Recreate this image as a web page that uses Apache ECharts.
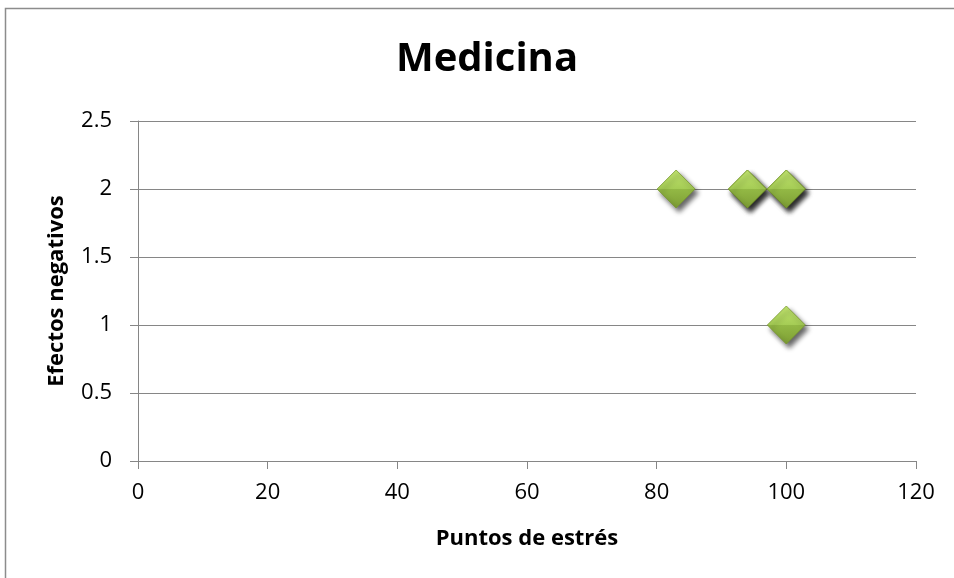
<!DOCTYPE html>
<html>
<head>
<meta charset="utf-8">
<script src="https://cdn.jsdelivr.net/npm/echarts@6/dist/echarts.min.js"></script>
<style>
html,body{margin:0;padding:0;background:#fff;}
#chart{width:954px;height:578px;}
</style>
</head>
<body>
<div id="chart"></div>
<script>
const titleText = "Medicina";
const xName = "Puntos de estrés";
const yName = "Efectos negativos";
const xValues = [83, 94, 94, 100, 100, 100];
const yValues = [2, 2, 2, 2, 2, 1];
const xTicks = {min: 0, max: 120, interval: 20};
const yTicks = {min: 0, max: 2.5, interval: 0.5};

const points = xValues.map((x, i) => [x, yValues[i]]);
const font = "'Open Sans', 'Noto Sans', sans-serif";
const gray = '#868686';

const chart = echarts.init(document.getElementById('chart'));
chart.setOption({
  animation: false,
  backgroundColor: '#fff',
  graphic: [{
    type: 'rect',
    shape: {x: 5.5, y: 8.5, width: 1000, height: 1000},
    style: {fill: 'none', stroke: '#8c8c8c', lineWidth: 1.5},
    silent: true,
    z: -10
  }],
  title: {
    text: titleText,
    left: 482,
    top: 35,
    textAlign: 'center',
    textStyle: {fontFamily: font, fontWeight: 'bold', fontSize: 40, color: '#000'}
  },
  grid: {left: 138, right: 38, top: 121, bottom: 117, containLabel: false},
  xAxis: {
    type: 'value',
    min: xTicks.min, max: xTicks.max, interval: xTicks.interval,
    name: xName,
    nameLocation: 'middle',
    nameGap: 67,
    nameTextStyle: {fontFamily: font, fontWeight: 'bold', fontSize: 22, color: '#000'},
    axisLine: {show: true, lineStyle: {color: gray, width: 1}},
    axisTick: {show: true, length: 8, lineStyle: {color: gray}},
    axisLabel: {fontFamily: font, fontSize: 22, color: '#000', margin: 21},
    splitLine: {show: false}
  },
  yAxis: {
    type: 'value',
    min: yTicks.min, max: yTicks.max, interval: yTicks.interval,
    name: yName,
    nameLocation: 'middle',
    nameGap: 70,
    nameTextStyle: {fontFamily: font, fontWeight: 'bold', fontSize: 22, color: '#000'},
    axisLine: {show: true, lineStyle: {color: gray, width: 1}},
    axisTick: {show: true, length: 8, lineStyle: {color: gray}},
    axisLabel: {fontFamily: font, fontSize: 22, color: '#000', margin: 26},
    splitLine: {show: true, lineStyle: {color: gray, width: 1}}
  },
  series: [{
    type: 'scatter',
    data: points,
    symbol: 'diamond',
    symbolSize: 38,
    itemStyle: {
      opacity: 1,
      color: {
        type: 'linear', x: 0, y: 0, x2: 0, y2: 1,
        colorStops: [
          {offset: 0, color: '#c0e36e'},
          {offset: 0.5, color: '#a5cc55'},
          {offset: 0.5, color: '#93b945'},
          {offset: 1, color: '#7d9d34'}
        ]
      },
      borderColor: '#78982f',
      borderWidth: 0.8,
      shadowColor: 'rgba(0,0,0,0.6)',
      shadowBlur: 5,
      shadowOffsetX: 3,
      shadowOffsetY: 4
    }
  }]
});
</script>
</body>
</html>
